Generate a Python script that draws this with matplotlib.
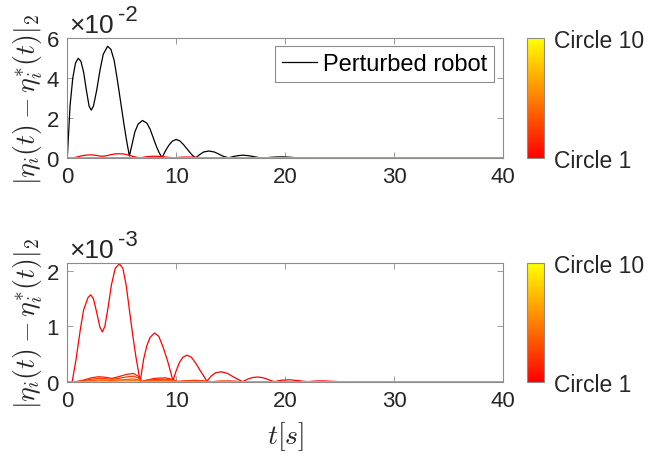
import matplotlib
matplotlib.use("Agg")
import matplotlib.pyplot as plt
import matplotlib as mpl
import matplotlib.transforms as mtrans
import numpy as np

plt.rcParams['font.family'] = ['Liberation Sans', 'DejaVu Sans']

# ---------------- data ----------------
# Perturbed robot error (units of 1e-2)
t_black = [0, 0.25, 0.5, 0.75, 1.0, 1.25, 1.5, 1.75, 2.0, 2.2, 2.4, 2.7, 3.0, 3.3, 3.7,
           4.0, 4.3, 4.6, 4.9, 5.2, 5.45, 5.7, 5.95, 6.2, 6.5, 6.9, 7.3, 7.6, 7.9, 8.2,
           8.45, 8.7, 9.0, 9.3, 9.65, 10.0, 10.35, 10.7, 11.0, 11.3, 11.55, 11.8, 12.1,
           12.5, 13.0, 13.5, 13.9, 14.3, 14.8, 15.3, 15.7, 16.1, 16.6, 17.1, 17.6, 18.0,
           18.6, 19.2, 19.8, 20.4, 21.0, 21.5, 22.2, 23.0, 23.7, 24.4, 40]
v_black = [0, 2.6, 4.0, 4.75, 5.0, 4.85, 4.3, 3.4, 2.6, 2.4, 2.6, 3.4, 4.4, 5.2, 5.6,
           5.45, 4.9, 3.9, 2.8, 1.7, 0.85, 0.1, 0.7, 1.3, 1.7, 1.88, 1.75, 1.45, 1.0, 0.55,
           0.25, 0.02, 0.35, 0.62, 0.85, 0.93, 0.85, 0.65, 0.45, 0.25, 0.1, 0.01, 0.15,
           0.3, 0.35, 0.3, 0.2, 0.09, 0.01, 0.08, 0.12, 0.14, 0.12, 0.07, 0.02, 0.0,
           0.03, 0.05, 0.055, 0.04, 0.015, 0.0, 0.015, 0.02, 0.012, 0.0, 0.0]

# Circle errors (units of 1e-3)
t_c1 = [0, 0.45, 0.8, 1.2, 1.5, 1.9, 2.15, 2.4, 2.7, 3.0, 3.22, 3.45, 3.75, 4.05, 4.4,
        4.78, 5.1, 5.4, 5.7, 6.0, 6.3, 6.69, 7.0, 7.3, 7.6, 8.0, 8.4, 8.8, 9.2, 9.7,
        10.0, 10.3, 10.6, 10.98, 11.4, 11.8, 12.3, 12.82, 13.2, 13.6, 14.13, 14.7,
        15.4, 16.1, 16.6, 17.0, 17.5, 18.0, 18.5, 19.0, 19.6, 20.4, 21.2, 22.0, 22.8,
        23.5, 24.2, 25.0, 40]
v_c1 = [0, 0, 0.4, 0.95, 1.3, 1.52, 1.57, 1.5, 1.25, 0.98, 0.9, 1.0, 1.35, 1.75, 2.05,
        2.13, 2.05, 1.75, 1.3, 0.85, 0.45, 0.0, 0.4, 0.65, 0.8, 0.88, 0.82, 0.62, 0.38,
        0.02, 0.2, 0.35, 0.44, 0.48, 0.44, 0.33, 0.17, 0.01, 0.1, 0.16, 0.18, 0.15,
        0.07, 0.0, 0.05, 0.075, 0.085, 0.07, 0.035, 0.0, 0.025, 0.035, 0.02, 0.0, 0.012,
        0.015, 0.008, 0.0, 0.0]

t_small = [0, 0.8, 1.5, 2.2, 2.85, 3.5, 4.08, 4.7, 5.4, 6.07, 6.5, 6.85, 7.3, 8.0, 9.0,
           9.7, 10.1, 10.8, 11.7, 12.5, 13.2, 14.0, 15.0, 16.0, 40]
v_c2 = [0, 0, 0.03, 0.07, 0.09, 0.08, 0.06, 0.09, 0.13, 0.15, 0.1, 0.0, 0.03, 0.06, 0.07,
        0.04, 0.0, 0.015, 0.025, 0.015, 0.0, 0.01, 0.012, 0.0, 0]
v_c3 = [0, 0, 0.02, 0.045, 0.06, 0.055, 0.045, 0.06, 0.085, 0.1, 0.07, 0.01, 0.02, 0.04,
        0.045, 0.025, 0.005, 0.01, 0.015, 0.01, 0, 0.005, 0.006, 0, 0]
v_c4 = [0, 0, 0.01, 0.02, 0.03, 0.028, 0.022, 0.03, 0.04, 0.05, 0.035, 0.005, 0.01, 0.02,
        0.022, 0.012, 0.002, 0.005, 0.008, 0.005, 0, 0.002, 0.003, 0, 0]
v_c5 = [0, 0, 0.004, 0.008, 0.012, 0.011, 0.009, 0.012, 0.016, 0.02, 0.014, 0.002, 0.004,
        0.008, 0.009, 0.005, 0.001, 0.002, 0.003, 0.002, 0, 0.001, 0.001, 0, 0]
t_flat = [0, 40]
v_flat = [0, 0]

circles_t = [t_c1, t_small, t_small, t_small, t_small, t_flat, t_flat, t_flat, t_flat, t_flat]
circles_v = [v_c1, v_c2, v_c3, v_c4, v_c5, v_flat, v_flat, v_flat, v_flat, v_flat]

x_ticks = [0, 10, 20, 30, 40]
top_yticks = [0, 2, 4, 6]
bot_yticks = [0, 1, 2]
cbar_labels = ['Circle 1', 'Circle 10']

# ---------------- figure ----------------
W, H = 651, 456
fig = plt.figure(figsize=(W / 100, H / 100), dpi=100)

def px_axes(l, t, r, b):
    return fig.add_axes([l / W, 1 - b / H, (r - l) / W, (b - t) / H])

ax1 = px_axes(67.3, 39.3, 503, 159)
ax2 = px_axes(67.3, 264.3, 503, 382.7)
cax1 = px_axes(526.7, 39.3, 544.3, 159)
cax2 = px_axes(526.7, 264.3, 544.3, 382.7)

cmap = plt.get_cmap('autumn')
ncirc = len(circles_t)
colors = [cmap(i / (ncirc - 1)) for i in range(ncirc)]

spine_c = '#8c8c8c'
text_c = '#262626'

# top
ax1.plot(t_black, v_black, color='black', lw=0.9, label='Perturbed robot')
for i in range(ncirc):
    ax1.plot(circles_t[i], np.array(circles_v[i]) / 10.0, color=colors[i], lw=0.9)
ax1.set_ylim(0, 6)
ax1.set_yticks(top_yticks)

# bottom
for i in range(ncirc):
    ax2.plot(circles_t[i], circles_v[i], color=colors[i], lw=0.9)
ax2.set_ylim(0, 2.14)
ax2.set_yticks(bot_yticks)

ylab = r'$|\eta_i(t)-\eta_i^{*}(t)|_2$'
for ax, ex in [(ax1, '-2'), (ax2, '-3')]:
    ax.set_xlim(0, 40)
    ax.set_xticks(x_ticks)
    ax.tick_params(direction='in', length=4, width=0.6, color=spine_c,
                   labelsize=16, labelcolor=text_c, top=True, right=True, pad=6)
    for s in ax.spines.values():
        s.set_color(spine_c)
        s.set_linewidth(0.8)
    ax.set_ylabel(ylab, fontsize=20, math_fontfamily='cm', labelpad=1, color=text_c)
    tr1 = mtrans.offset_copy(ax.transAxes, fig=fig, x=2, y=6, units='dots')
    ax.text(0, 1, '×10', transform=tr1, fontsize=19, ha='left', va='baseline', color=text_c)
    tr2 = mtrans.offset_copy(ax.transAxes, fig=fig, x=51, y=18.5, units='dots')
    ax.text(0, 1, ex, transform=tr2, fontsize=16, ha='left', va='baseline', color=text_c)

ax2.set_xlabel(r'$t[s]$', fontsize=20, math_fontfamily='cm', labelpad=6, color=text_c)

leg = ax1.legend(loc='upper right', bbox_to_anchor=(0.979, 0.938), borderaxespad=0,
                 fontsize=17, handlelength=1.45, handletextpad=0.25, borderpad=0.3,
                 fancybox=False, framealpha=1)
leg.get_frame().set_edgecolor(spine_c)
leg.get_frame().set_linewidth(0.8)

norm = mpl.colors.Normalize(vmin=1, vmax=10)
for cax in (cax1, cax2):
    cb = fig.colorbar(mpl.cm.ScalarMappable(norm=norm, cmap=cmap), cax=cax)
    cb.set_ticks([1, 10])
    cb.set_ticklabels(cbar_labels)
    cb.ax.tick_params(length=0, labelsize=16.5, labelcolor=text_c, pad=7)
    cb.outline.set_edgecolor(spine_c)
    cb.outline.set_linewidth(0.8)

fig.savefig('out.png', dpi=100)
